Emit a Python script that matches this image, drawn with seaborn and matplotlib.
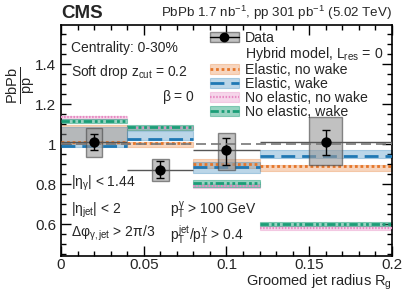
import numpy as np
import pandas as pd
import matplotlib
matplotlib.use("Agg")
import matplotlib.pyplot as plt
import seaborn as sns
from matplotlib.patches import Patch, Rectangle
from matplotlib.lines import Line2D
from matplotlib.ticker import MultipleLocator, FuncFormatter

# Bins in groomed jet radius
bin_lo = [0.0, 0.04, 0.08, 0.12]
bin_hi = [0.04, 0.08, 0.12, 0.20]

# CMS data (PbPb/pp)
data_x = [0.02, 0.06, 0.10, 0.16]
data_y = [1.01, 0.87, 0.968, 1.01]
stat_dn = [0.04, 0.042, 0.073, 0.064]
stat_up = [0.04, 0.045, 0.062, 0.062]
syst_dn = [0.076, 0.056, 0.098, 0.115]
syst_up = [0.071, 0.056, 0.088, 0.125]

# Hybrid model curves (centre, band low, band high)
ela_nowake = [1.012, 1.005, 0.899, 0.890]
ela_nowake_lo = [1.000, 0.985, 0.880, 0.863]
ela_nowake_hi = [1.096, 1.012, 0.926, 0.895]

ela_wake = [0.992, 1.025, 0.886, 0.941]
ela_wake_lo = [0.985, 1.020, 0.853, 0.929]
ela_wake_hi = [1.085, 1.066, 0.910, 0.971]

noela_nowake = [1.135, 1.080, 0.790, 0.580]
noela_nowake_lo = [1.127, 1.071, 0.780, 0.570]
noela_nowake_hi = [1.143, 1.090, 0.800, 0.592]

noela_wake = [1.115, 1.083, 0.803, 0.600]
noela_wake_lo = [1.106, 1.071, 0.787, 0.590]
noela_wake_hi = [1.127, 1.096, 0.819, 0.612]

model_labels = ["Elastic, no wake", "Elastic, wake", "No elastic, no wake", "No elastic, wake"]

sns.set_theme(style="ticks")
plt.rcParams["font.family"] = ["Liberation Sans", "DejaVu Sans"]
plt.rcParams["mathtext.fontset"] = "custom"
plt.rcParams["mathtext.rm"] = "Liberation Sans"
plt.rcParams["mathtext.it"] = "Liberation Sans"
plt.rcParams["mathtext.bf"] = "Liberation Sans:bold"

c_orange, c_blue, c_pink, c_teal = "#e5762a", "#1f78b4", "#e78ac3", "#1b9e77"

fig = plt.figure(figsize=(4.07, 2.92), dpi=100)
ax = fig.add_axes([0.150, 0.123, 0.813, 0.791])

models = [
    (ela_nowake, ela_nowake_lo, ela_nowake_hi, c_orange, (0, (1, 1)), 2.0, 0.3),
    (ela_wake, ela_wake_lo, ela_wake_hi, c_blue, (0, (5, 2.5)), 2.0, 0.3),
    (noela_nowake, noela_nowake_lo, noela_nowake_hi, c_pink, (0, (0.7, 0.7)), 1.6, 0.35),
    (noela_wake, noela_wake_lo, noela_wake_hi, c_teal, (0, (3, 1, 1, 1, 1, 1)), 2.0, 0.45),
]

handles = []
for cen, lo, hi, col, ls, lw, a in models:
    for i in range(len(bin_lo)):
        ax.fill_between([bin_lo[i], bin_hi[i]], lo[i], hi[i], color=col,
                        alpha=a, lw=0.8, edgecolor=col, zorder=2)
        ax.hlines(cen[i], bin_lo[i], bin_hi[i], color=col, ls=ls, lw=lw, zorder=3)
    handles.append((Patch(facecolor=col, alpha=a, edgecolor=col, lw=0.8),
                    Line2D([], [], color=col, ls=ls, lw=lw)))

# Data: systematic boxes, stat error bars, x-bin lines
for i in range(len(data_x)):
    w = (bin_hi[i] - bin_lo[i]) / 4
    ax.add_patch(Rectangle((data_x[i] - w / 2, data_y[i] - syst_dn[i]), w,
                           syst_dn[i] + syst_up[i], facecolor="#999999",
                           alpha=0.6, edgecolor="#444444", lw=1.0, zorder=4))
    ax.hlines(data_y[i], bin_lo[i], bin_hi[i], color="#555555", lw=1.0, zorder=4)
ax.errorbar(data_x, data_y, yerr=[stat_dn, stat_up], fmt="none", ecolor="black",
            elinewidth=1.0, capsize=3, capthick=1.0, zorder=5)
df = pd.DataFrame({"x": data_x, "y": data_y})
sns.scatterplot(data=df, x="x", y="y", color="black", s=55, edgecolor="black",
                linewidth=0, zorder=6, ax=ax, legend=False)

ax.axhline(1.0, color="#777777", ls=(0, (6, 3)), lw=1.2, zorder=5)

ax.set_xlim(0, 0.2)
ax.set_ylim(0.44, 1.595)
ax.set_xlabel("")
ax.set_ylabel("")
ax.xaxis.set_major_locator(MultipleLocator(0.05))
ax.xaxis.set_minor_locator(MultipleLocator(0.01))
ax.yaxis.set_major_locator(MultipleLocator(0.2))
ax.yaxis.set_minor_locator(MultipleLocator(0.05))
ax.xaxis.set_major_formatter(FuncFormatter(lambda v, p: f"{v:g}"))
ax.yaxis.set_major_formatter(FuncFormatter(lambda v, p: f"{v:g}"))
ax.tick_params(which="both", direction="in", top=True, right=True, labelsize=11,
               width=1.0, color="black")
ax.tick_params(which="major", length=7)
ax.tick_params(which="minor", length=3.5)
ax.tick_params(axis="x", pad=1.5)
for s in ax.spines.values():
    s.set_linewidth(1.2)
    s.set_color("black")

# Legend
data_handle = (Patch(facecolor="#999999", alpha=0.6, edgecolor="#444444"),
               Line2D([], [], color="black", marker="o", ms=6, lw=1.0))
blank = Patch(alpha=0)
leg = ax.legend([data_handle, blank] + handles,
                ["Data", "Hybrid model, $L_{\\mathrm{res}}$ = 0"] + model_labels,
                loc="upper left", bbox_to_anchor=(0.425, 1.012), frameon=False,
                fontsize=10.2, handlelength=2.0, handletextpad=0.45,
                labelspacing=0.0, borderaxespad=0.2)

# Text annotations
fs = 10
ax.text(0.03, 0.90, "Centrality: 0-30%", transform=ax.transAxes, fontsize=fs, va="center")
ax.text(0.03, 0.795, "Soft drop $z_{\\mathrm{cut}}$ = 0.2", transform=ax.transAxes, fontsize=fs, va="center")
ax.text(0.305, 0.688, "$\\beta$ = 0", transform=ax.transAxes, fontsize=fs, va="center")
ax.text(0.03, 0.316, "$|\\eta_{\\gamma}|$ < 1.44", transform=ax.transAxes, fontsize=fs, va="center")
ax.text(0.03, 0.20, "$|\\eta_{\\mathrm{jet}}|$ < 2", transform=ax.transAxes, fontsize=fs, va="center")
ax.text(0.03, 0.10, "$\\Delta\\varphi_{\\gamma,\\mathrm{jet}}$ > 2$\\pi$/3", transform=ax.transAxes, fontsize=fs, va="center")
ax.text(0.33, 0.20, "$p_{\\mathrm{T}}^{\\gamma}$ > 100 GeV", transform=ax.transAxes, fontsize=fs, va="center")
ax.text(0.33, 0.09, "$p_{\\mathrm{T}}^{\\mathrm{jet}}/p_{\\mathrm{T}}^{\\gamma}$ > 0.4", transform=ax.transAxes, fontsize=fs, va="center")

fig.text(0.150, 0.925, "CMS", fontsize=13.5, fontweight="bold", ha="left", va="bottom")
fig.text(0.963, 0.925, "PbPb 1.7 nb$^{-1}$, pp 301 pb$^{-1}$ (5.02 TeV)", fontsize=9.6,
         ha="right", va="bottom")
fig.text(0.05, 0.71, "$\\frac{\\mathrm{PbPb}}{\\mathrm{pp}}$", fontsize=15, rotation=90,
         ha="center", va="center")
fig.text(0.963, 0.022, "Groomed jet radius $R_{\\mathrm{g}}$", fontsize=10.5, ha="right",
         va="baseline")

fig.savefig("out.png", dpi=100)
